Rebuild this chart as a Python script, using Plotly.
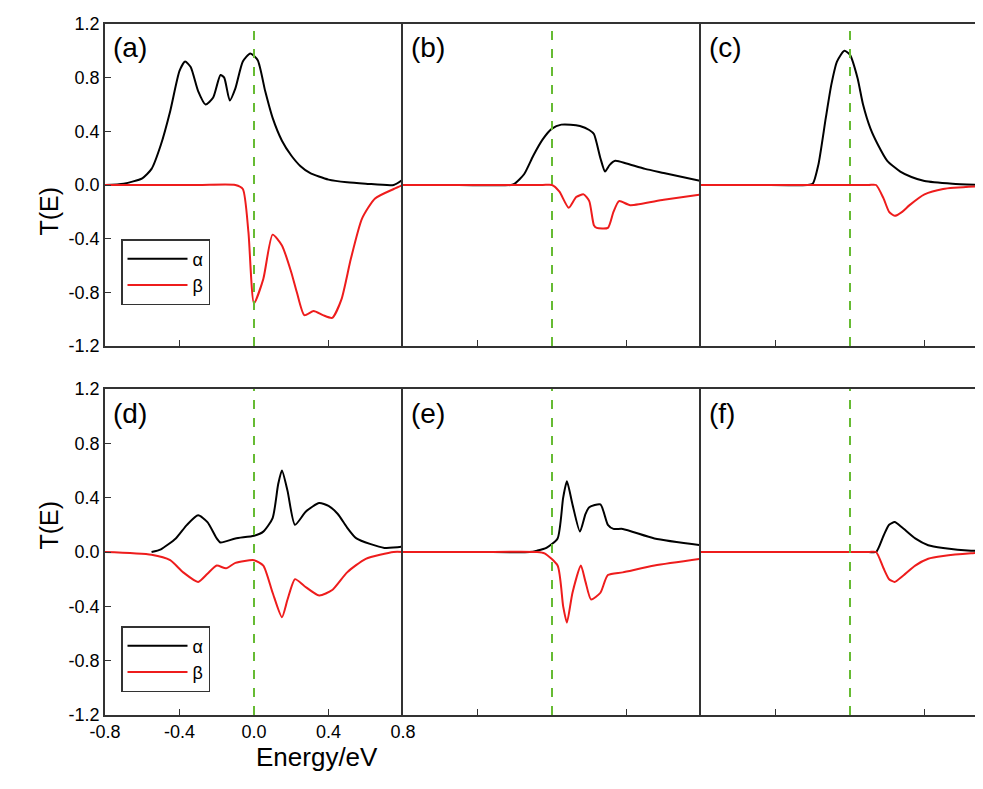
import plotly.graph_objects as go
from plotly.subplots import make_subplots

# curves: (energy, T) per panel
a_alpha_x = [-0.8, -0.7, -0.6, -0.55, -0.5, -0.45, -0.4, -0.37, -0.34, -0.3, -0.26, -0.22, -0.18, -0.16, -0.13, -0.1, -0.06, -0.02, 0.02, 0.06, 0.1, 0.15, 0.2, 0.25, 0.3, 0.4, 0.5, 0.6, 0.75, 0.8]
a_alpha_y = [0.0, 0.01, 0.05, 0.12, 0.3, 0.55, 0.85, 0.92, 0.88, 0.7, 0.6, 0.65, 0.82, 0.8, 0.63, 0.72, 0.92, 0.98, 0.93, 0.7, 0.5, 0.33, 0.22, 0.14, 0.09, 0.04, 0.02, 0.01, 0.0, 0.04]
a_beta_x = [-0.8, -0.3, -0.1, -0.06, -0.03, 0.0, 0.05, 0.1, 0.15, 0.2, 0.23, 0.27, 0.32, 0.37, 0.42, 0.47, 0.52, 0.58, 0.65, 0.75, 0.8]
a_beta_y = [0.0, 0.0, 0.0, -0.03, -0.35, -0.88, -0.7, -0.37, -0.45, -0.65, -0.8, -0.97, -0.94, -0.97, -0.99, -0.85, -0.55, -0.25, -0.1, -0.03, 0.0]

b_alpha_x = [-0.8, -0.5, -0.22, -0.2, -0.15, -0.1, -0.05, 0.0, 0.05, 0.1, 0.15, 0.2, 0.225, 0.26, 0.285, 0.31, 0.34, 0.4, 0.5, 0.6, 0.7, 0.8]
b_alpha_y = [0.0, 0.0, 0.0, 0.01, 0.08, 0.22, 0.34, 0.42, 0.45, 0.45, 0.44, 0.41, 0.38, 0.2, 0.1, 0.15, 0.18, 0.16, 0.12, 0.09, 0.06, 0.03]
b_beta_x = [-0.8, -0.4, -0.05, 0.0, 0.04, 0.09, 0.13, 0.17, 0.2, 0.225, 0.24, 0.3, 0.33, 0.36, 0.42, 0.6, 0.8]
b_beta_y = [0.0, 0.0, 0.0, 0.0, -0.05, -0.17, -0.09, -0.07, -0.12, -0.3, -0.32, -0.32, -0.2, -0.12, -0.15, -0.11, -0.07]

c_alpha_x = [-0.8, -0.5, -0.23, -0.2, -0.17, -0.13, -0.1, -0.07, -0.03, 0.0, 0.04, 0.07, 0.11, 0.15, 0.2, 0.27, 0.33, 0.4, 0.55, 0.7]
c_alpha_y = [0.0, 0.0, 0.0, 0.01, 0.15, 0.5, 0.75, 0.92, 1.0, 0.97, 0.8, 0.6, 0.42, 0.3, 0.18, 0.1, 0.06, 0.03, 0.01, 0.0]
c_beta_x = [-0.8, -0.3, 0.1, 0.14, 0.18, 0.21, 0.24, 0.28, 0.32, 0.4, 0.5, 0.7]
c_beta_y = [0.0, 0.0, 0.0, 0.0, -0.1, -0.2, -0.23, -0.2, -0.15, -0.07, -0.03, -0.01]

d_alpha_x = [-0.55, -0.5, -0.42, -0.36, -0.3, -0.25, -0.2, -0.18, -0.1, 0.0, 0.05, 0.1, 0.13, 0.15, 0.18, 0.22, 0.28, 0.35, 0.4, 0.45, 0.5, 0.55, 0.7, 0.8]
d_alpha_y = [0.0, 0.02, 0.1, 0.2, 0.27, 0.22, 0.1, 0.07, 0.1, 0.12, 0.15, 0.25, 0.5, 0.6, 0.45, 0.2, 0.3, 0.36, 0.34, 0.28, 0.18, 0.1, 0.03, 0.04]
d_beta_x = [-0.8, -0.55, -0.45, -0.38, -0.3, -0.25, -0.2, -0.15, -0.1, 0.0, 0.05, 0.1, 0.15, 0.18, 0.22, 0.27, 0.35, 0.42, 0.5, 0.6, 0.75, 0.8]
d_beta_y = [0.0, -0.02, -0.06, -0.15, -0.22, -0.16, -0.1, -0.12, -0.08, -0.06, -0.1, -0.3, -0.48, -0.35, -0.2, -0.25, -0.32, -0.28, -0.15, -0.05, 0.0, 0.0]

e_alpha_x = [-0.8, -0.4, -0.12, -0.08, -0.03, 0.03, 0.06, 0.08, 0.11, 0.15, 0.18, 0.2, 0.26, 0.3, 0.33, 0.38, 0.55, 0.8]
e_alpha_y = [0.0, 0.0, 0.0, 0.01, 0.03, 0.1, 0.4, 0.52, 0.35, 0.15, 0.28, 0.33, 0.35, 0.2, 0.17, 0.17, 0.1, 0.05]
e_beta_x = [-0.8, -0.4, -0.08, -0.04, 0.03, 0.06, 0.08, 0.11, 0.155, 0.18, 0.21, 0.26, 0.3, 0.38, 0.55, 0.8]
e_beta_y = [0.0, 0.0, 0.0, -0.01, -0.1, -0.4, -0.52, -0.3, -0.1, -0.22, -0.35, -0.3, -0.17, -0.15, -0.1, -0.05]

f_alpha_x = [-0.8, -0.3, 0.1, 0.14, 0.18, 0.21, 0.24, 0.28, 0.35, 0.42, 0.5, 0.65, 0.8]
f_alpha_y = [0.0, 0.0, 0.0, 0.0, 0.12, 0.2, 0.22, 0.18, 0.1, 0.05, 0.03, 0.01, 0.01]
f_beta_x = [-0.8, -0.3, 0.1, 0.14, 0.18, 0.21, 0.24, 0.28, 0.35, 0.42, 0.5, 0.65, 0.8]
f_beta_y = [0.0, 0.0, 0.0, 0.0, -0.12, -0.2, -0.22, -0.18, -0.1, -0.05, -0.03, -0.01, 0.0]

panels = [
    ("(a)", a_alpha_x, a_alpha_y, a_beta_x, a_beta_y),
    ("(b)", b_alpha_x, b_alpha_y, b_beta_x, b_beta_y),
    ("(c)", c_alpha_x, c_alpha_y, c_beta_x, c_beta_y),
    ("(d)", d_alpha_x, d_alpha_y, d_beta_x, d_beta_y),
    ("(e)", e_alpha_x, e_alpha_y, e_beta_x, e_beta_y),
    ("(f)", f_alpha_x, f_alpha_y, f_beta_x, f_beta_y),
]

W, H = 983, 789
OFF = 4  # shift between page and figure coordinates


def px(v):
    return (v - OFF) / W


def py(v):
    return 1 - (v - OFF) / H


xdom = [[px(101), px(399)], [px(399), px(697)], [px(697), 1.0]]
ydom = [[py(342), py(20)], [py(711), py(385)]]
font = "Liberation Sans, Arial, sans-serif"

fig = make_subplots(rows=2, cols=3, horizontal_spacing=0, vertical_spacing=0.05)

for i, (lab, ax_, ay_, bx_, by_) in enumerate(panels):
    r, c = i // 3 + 1, i % 3 + 1
    leg = None
    if i == 0:
        leg = "legend"
    elif i == 3:
        leg = "legend2"
    fig.add_trace(go.Scatter(x=ax_, y=ay_, mode="lines",
                             line=dict(color="black", width=2, shape="spline", smoothing=0.6),
                             name="α", showlegend=leg is not None, legend=leg or "legend"), row=r, col=c)
    fig.add_trace(go.Scatter(x=bx_, y=by_, mode="lines",
                             line=dict(color="#ee1c1c", width=2, shape="spline", smoothing=0.6),
                             name="β", showlegend=leg is not None, legend=leg or "legend"), row=r, col=c)
    xr = [-0.8, 0.8] if c < 3 else [-0.8, -0.8 + 1.6 * (W + OFF - 697) / 298]
    fig.update_xaxes(domain=xdom[c - 1], range=xr, tickvals=[-0.8, -0.4, 0.0, 0.4, 0.8],
                     ticktext=["-0.8", "-0.4", "0.0", "0.4", "0.8"], showticklabels=(i == 3),
                     ticks="inside", ticklen=6, tickcolor="#333", showline=True, linecolor="#333",
                     linewidth=1.5, mirror=True, showgrid=False, zeroline=False, automargin=False,
                     tickfont=dict(size=18, color="black", family=font), row=r, col=c)
    fig.update_yaxes(domain=ydom[r - 1], range=[-1.2, 1.2], tickvals=[-1.2, -0.8, -0.4, 0.0, 0.4, 0.8, 1.2],
                     ticktext=["-1.2", "-0.8", "-0.4", "0.0", "0.4", "0.8", "1.2"],
                     showticklabels=(c == 1), ticks=("inside" if c == 1 else ""), ticklen=6, tickcolor="#333",
                     showline=True, linecolor="#333", linewidth=1.5, showgrid=False, zeroline=False,
                     automargin=False,
                     tickfont=dict(size=18, color="black", family=font), row=r, col=c)
    xref = "x" if i == 0 else "x%d" % (i + 1)
    yref = "y" if i == 0 else "y%d" % (i + 1)
    fig.add_shape(type="line", xref=xref, yref=yref + " domain", x0=0, x1=0, y0=0, y1=1,
                  line=dict(color="#66bb33", width=2, dash="dash"))
    fig.add_annotation(text=lab, xref=xref + " domain", yref=yref + " domain", x=0.02, y=0.98,
                       xanchor="left", yanchor="top", showarrow=False,
                       font=dict(size=28, color="black", family=font))

fig.add_annotation(text="Energy/eV", xref="paper", yref="paper", x=px(250), y=py(770),
                   showarrow=False, font=dict(size=26, color="black", family=font))
for yy in [181, 548]:
    fig.add_annotation(text="T(E)", xref="paper", yref="paper", x=px(28), y=py(yy), textangle=-90,
                       showarrow=False, font=dict(size=25, color="black", family=font))

legstyle = dict(bgcolor="white", bordercolor="#333", borderwidth=1.5, xanchor="left", yanchor="top",
                font=dict(size=18, color="black", family=font), tracegroupgap=0, itemwidth=60)
fig.update_layout(
    width=W, height=H, plot_bgcolor="white", paper_bgcolor="white",
    margin=dict(l=0, r=0, t=0, b=0, autoexpand=False), showlegend=True,
    legend=dict(x=px(117), y=py(235), **legstyle),
    legend2=dict(x=px(117), y=py(622), **legstyle),
)

fig.write_html("out.html")
